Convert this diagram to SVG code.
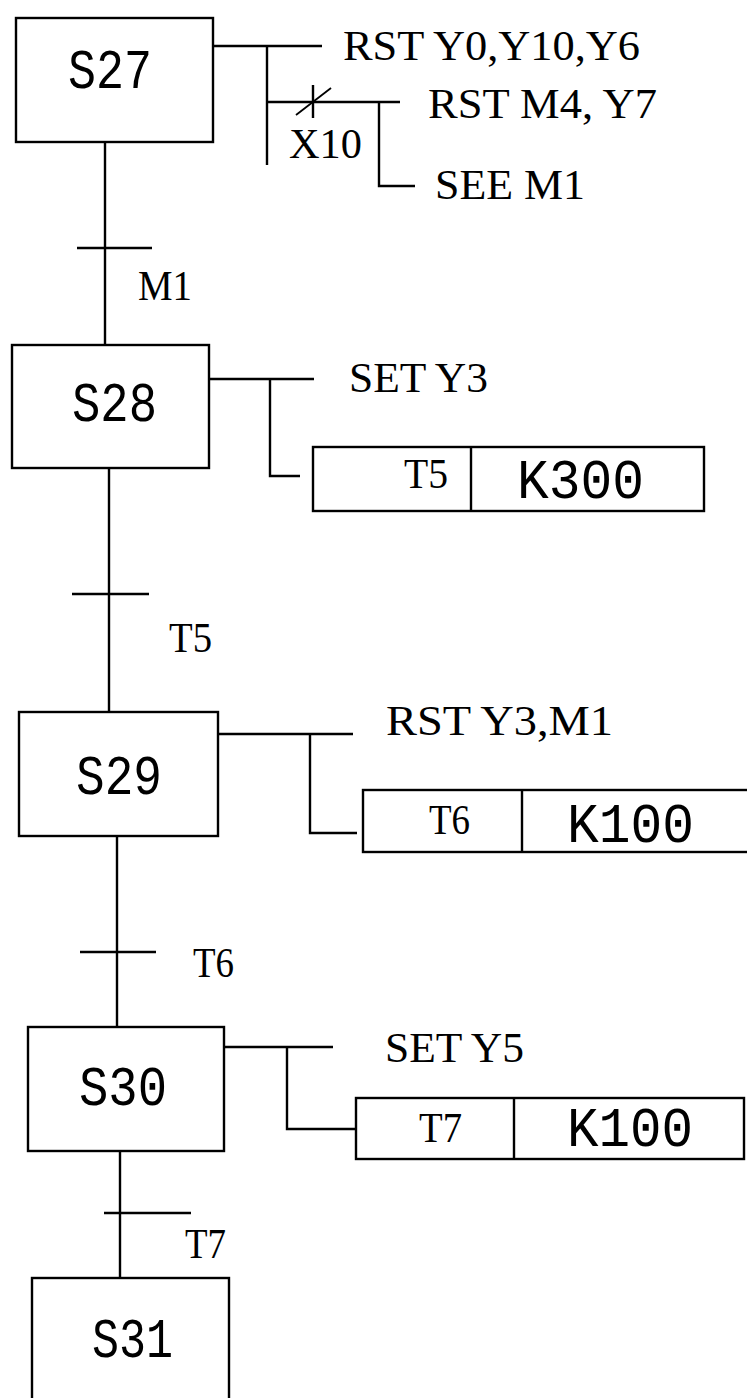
<svg xmlns="http://www.w3.org/2000/svg" width="747" height="1398" viewBox="0 0 747 1398">
<style>
.b{fill:none;stroke:#000;stroke-width:2.4}
.l{fill:none;stroke:#000;stroke-width:2.4;stroke-linecap:butt}
.big{font-family:"Liberation Mono","Courier New",monospace;font-size:56px;fill:#000}
.lab{font-family:"Liberation Serif","Times New Roman",serif;font-size:42px;fill:#000}
</style>
<rect width="747" height="1398" fill="#fff"/>
<g id="connectors" class="l">
<path d="M105,142V345M77,248H152"/>
<path d="M109,468V712M72,594H149"/>
<path d="M117,836V1027M80,952H156"/>
<path d="M120,1151V1278M104,1213H191"/>
</g>
<g id="S27">
<rect class="b" x="16" y="18" width="197" height="124"/>
<text class="big" x="68" y="88" textLength="84" lengthAdjust="spacingAndGlyphs">S27</text>
<path class="l" d="M213,46H322M267,46V165M267,102H400M313,85V118M379,102V186H415"/>
<path fill="none" stroke="#000" stroke-width="1.8" d="M296,115L331,88"/>
<text class="lab" x="343" y="60" textLength="297" lengthAdjust="spacingAndGlyphs">RST Y0,Y10,Y6</text>
<text class="lab" x="428" y="118" textLength="229" lengthAdjust="spacingAndGlyphs">RST M4, Y7</text>
<text class="lab" x="289" y="158" textLength="73" lengthAdjust="spacingAndGlyphs">X10</text>
<text class="lab" x="435" y="199" textLength="150" lengthAdjust="spacingAndGlyphs">SEE M1</text>
</g>
<g id="t-M1"><text class="lab" x="138" y="300" textLength="54" lengthAdjust="spacingAndGlyphs">M1</text></g>
<g id="S28">
<rect class="b" x="12" y="345" width="197" height="123"/>
<text class="big" x="72" y="421" textLength="85" lengthAdjust="spacingAndGlyphs">S28</text>
<path class="l" d="M209,379H314M270,379V476H300"/>
<text class="lab" x="349" y="392" textLength="139" lengthAdjust="spacingAndGlyphs">SET Y3</text>
<rect class="b" x="313" y="447" width="391" height="64"/>
<path class="l" d="M471,447V511"/>
<text class="lab" x="404" y="488" textLength="44" lengthAdjust="spacingAndGlyphs">T5</text>
<text class="big" x="517" y="498" textLength="127" lengthAdjust="spacingAndGlyphs">K300</text>
</g>
<g id="t-T5"><text class="lab" x="169" y="652" textLength="43" lengthAdjust="spacingAndGlyphs">T5</text></g>
<g id="S29">
<rect class="b" x="19" y="712" width="199" height="124"/>
<text class="big" x="76" y="794" textLength="86" lengthAdjust="spacingAndGlyphs">S29</text>
<path class="l" d="M218,734H353M310,734V833H357"/>
<text class="lab" x="386" y="735" textLength="227" lengthAdjust="spacingAndGlyphs">RST Y3,M1</text>
<rect class="b" x="363" y="790" width="400" height="62"/>
<path class="l" d="M522,790V852"/>
<text class="lab" x="429" y="834" textLength="41" lengthAdjust="spacingAndGlyphs">T6</text>
<text class="big" x="567" y="842" textLength="127" lengthAdjust="spacingAndGlyphs">K100</text>
</g>
<g id="t-T6"><text class="lab" x="193" y="977" textLength="41" lengthAdjust="spacingAndGlyphs">T6</text></g>
<g id="S30">
<rect class="b" x="28" y="1027" width="196" height="124"/>
<text class="big" x="79" y="1105" textLength="88" lengthAdjust="spacingAndGlyphs">S30</text>
<path class="l" d="M224,1047H333M287,1047V1129H356"/>
<text class="lab" x="385" y="1062" textLength="139" lengthAdjust="spacingAndGlyphs">SET Y5</text>
<rect class="b" x="356" y="1098" width="388" height="61"/>
<path class="l" d="M514,1098V1159"/>
<text class="lab" x="419" y="1142" textLength="43" lengthAdjust="spacingAndGlyphs">T7</text>
<text class="big" x="567" y="1146" textLength="126" lengthAdjust="spacingAndGlyphs">K100</text>
</g>
<g id="t-T7"><text class="lab" x="185" y="1258" textLength="41" lengthAdjust="spacingAndGlyphs">T7</text></g>
<g id="S31">
<rect class="b" x="32" y="1278" width="197" height="140"/>
<text class="big" x="92" y="1357" textLength="81" lengthAdjust="spacingAndGlyphs">S31</text>
</g>
</svg>
